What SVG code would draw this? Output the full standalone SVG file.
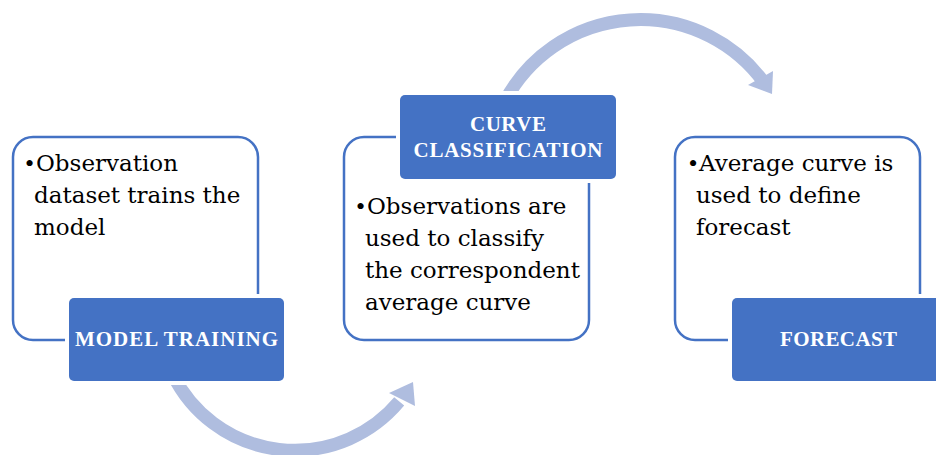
<svg xmlns="http://www.w3.org/2000/svg" width="936" height="455" viewBox="0 0 936 455">
<style>
.outline{fill:#fff;stroke:#4472c4;stroke-width:2.5}
.head{fill:#4472c4;stroke:#fff;stroke-width:8;paint-order:stroke}
.body{font-family:"DejaVu Serif","Liberation Serif",serif;font-size:23px;fill:#000}
.bul{font-family:"Liberation Serif",serif;font-size:26px}
.title{font-family:"Liberation Serif",serif;font-size:21px;font-weight:bold;fill:#fff;text-anchor:middle}
.band{fill:none;stroke:#afbddf;stroke-width:13}
.tip{fill:#afbddf}
</style>
<g id="connectors">
<path class="band" d="M505.5,100 A153.1,153.1 0 0 1 764,82.6"/>
<polygon class="tip" points="748,85 773,71 772,94"/>
<path class="band" d="M173,375 A136,136 0 0 0 399.2,401.4"/>
<polygon class="tip" points="389,393 413,382 415,406"/>
</g>
<g id="node-model-training">
<rect class="outline" x="13" y="137" width="245" height="203" rx="20"/>
<text class="body"><tspan class="bul" x="25" y="172">•</tspan><tspan x="36" y="171">Observation</tspan><tspan x="34" y="203">dataset trains the</tspan><tspan x="34" y="235">model</tspan></text>
<rect class="head" x="69" y="298" width="215" height="83" rx="5"/>
<text class="title" x="176.5" y="346" textLength="203" lengthAdjust="spacing">MODEL TRAINING</text>
</g>
<g id="node-curve-classification">
<rect class="outline" x="344" y="137" width="245" height="203" rx="20"/>
<rect class="head" x="400" y="95" width="216" height="84" rx="5"/>
<text class="title"><tspan x="508" y="131" textLength="76" lengthAdjust="spacing">CURVE</tspan><tspan x="508" y="157" textLength="189" lengthAdjust="spacing">CLASSIFICATION</tspan></text>
<text class="body"><tspan class="bul" x="356" y="214.5">•</tspan><tspan x="367" y="213.5">Observations are</tspan><tspan x="365" y="245.5">used to classify</tspan><tspan x="365" y="277.5">the correspondent</tspan><tspan x="365" y="309.5">average curve</tspan></text>
</g>
<g id="node-forecast">
<rect class="outline" x="675" y="137" width="245" height="203" rx="20"/>
<text class="body"><tspan class="bul" x="688.5" y="172">•</tspan><tspan x="699" y="171">Average curve is</tspan><tspan x="696" y="203">used to define</tspan><tspan x="696" y="235">forecast</tspan></text>
<rect class="head" x="732" y="298" width="215" height="83" rx="5"/>
<text class="title" x="838.5" y="346" textLength="117" lengthAdjust="spacing">FORECAST</text>
</g>
</svg>
